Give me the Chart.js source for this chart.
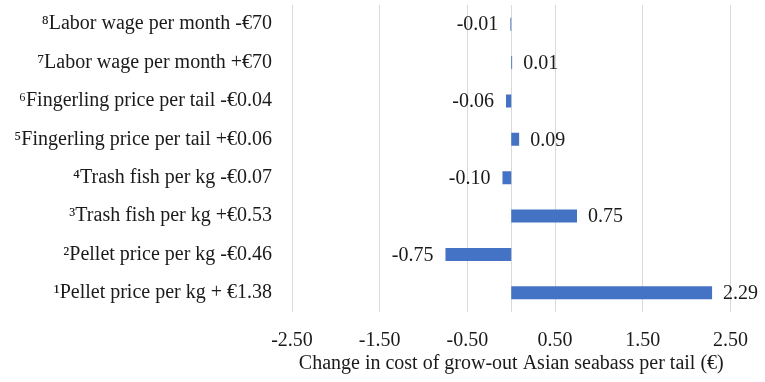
<!DOCTYPE html>
<html>
<head>
<meta charset="utf-8">
<script src="https://cdn.jsdelivr.net/npm/chart.js@4/dist/chart.umd.min.js"></script>
<style>
  html, body { margin: 0; padding: 0; background: #fff; }
  #wrap { width: 765px; height: 382px; }
</style>
</head>
<body>
<div id="wrap"><canvas id="chart"></canvas></div>
<script>
// scenarios, top to bottom as in the figure
var labels = [
  "⁸Labor wage per month -€70",
  "⁷Labor wage per month +€70",
  "⁶Fingerling price per tail -€0.04",
  "⁵Fingerling price per tail +€0.06",
  "⁴Trash fish per kg -€0.07",
  "³Trash fish per kg +€0.53",
  "²Pellet price per kg -€0.46",
  "¹Pellet price per kg + €1.38"
];
var changes = [-0.01, 0.01, -0.06, 0.09, -0.10, 0.75, -0.75, 2.29];
var xMin = -2.5;
var xMax = 2.5;
var xStep = 1;
var xTitle = "Change in cost of grow-out Asian seabass per tail (€)";

var FONT = "'Liberation Serif', 'Times New Roman', serif";
var GRID = "#d9d9d9";

// zero line through the middle of the plot
var zeroLine = {
  id: 'zeroLine',
  beforeDatasetsDraw: function(chart) {
    var ctx = chart.ctx, area = chart.chartArea;
    var x = Math.round(chart.scales.x.getPixelForValue(0)) + 0.5;
    ctx.save();
    ctx.strokeStyle = GRID;
    ctx.lineWidth = 1;
    ctx.beginPath();
    ctx.moveTo(x, area.top);
    ctx.lineTo(x, area.bottom);
    ctx.stroke();
    ctx.restore();
  }
};

// value labels at the end of each bar
var barLabels = {
  id: 'barLabels',
  afterDatasetsDraw: function(chart) {
    var ctx = chart.ctx;
    var meta = chart.getDatasetMeta(0);
    ctx.save();
    ctx.font = "20px " + FONT;
    ctx.fillStyle = "#1a1a1a";
    ctx.textBaseline = "middle";
    meta.data.forEach(function(bar, i) {
      var v = changes[i];
      if (v < 0) {
        ctx.textAlign = "right";
        ctx.fillText(v.toFixed(2), bar.x - 12, bar.y + 1);
      } else {
        ctx.textAlign = "left";
        ctx.fillText(v.toFixed(2), bar.x + 11, bar.y + 1);
      }
    });
    ctx.restore();
  }
};

new Chart(document.getElementById("chart"), {
  type: 'bar',
  data: {
    labels: labels,
    datasets: [{
      data: changes,
      backgroundColor: '#4472C4',
      borderWidth: 0,
      barPercentage: 0.34,
      categoryPercentage: 1
    }]
  },
  options: {
    indexAxis: 'y',
    responsive: true,
    maintainAspectRatio: false,
    animation: false,
    layout: { padding: { top: 5, right: 33, left: 0, bottom: 0 } },
    plugins: {
      legend: { display: false },
      tooltip: { enabled: false }
    },
    scales: {
      x: {
        min: xMin,
        max: xMax,
        grid: { color: GRID, drawTicks: false, lineWidth: 1 },
        border: { display: false },
        ticks: {
          stepSize: xStep,
          padding: 17,
          color: "#1a1a1a",
          font: { family: FONT, size: 20 },
          callback: function(v) { return Number(v).toFixed(2); }
        },
        title: {
          display: true,
          text: xTitle,
          color: "#1a1a1a",
          font: { family: FONT, size: 20 },
          padding: { top: 0, bottom: 6 }
        },
        afterFit: function(scale) { scale.height = 70; }
      },
      y: {
        grid: { display: false, drawTicks: false },
        border: { display: false },
        ticks: {
          padding: 20,
          color: "#1a1a1a",
          font: { family: FONT, size: 20 }
        },
        afterFit: function(scale) {
          scale.width = 292;
          scale.paddingTop = 0;
          scale.paddingBottom = 0;
        }
      }
    }
  },
  plugins: [zeroLine, barLabels]
});
</script>
</body>
</html>
